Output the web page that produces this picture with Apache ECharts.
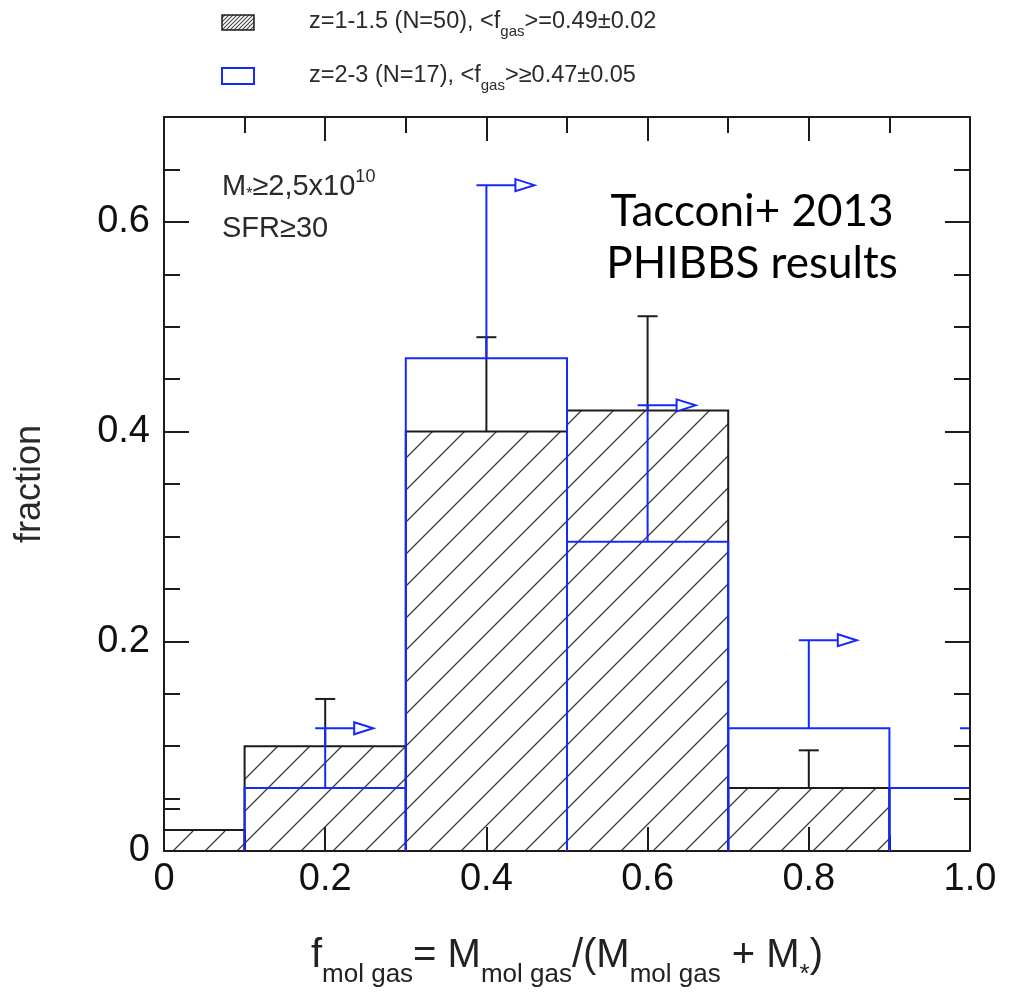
<!DOCTYPE html>
<html>
<head>
<meta charset="utf-8">
<script src="https://cdn.jsdelivr.net/npm/echarts@6/dist/echarts.min.js"></script>
<style>
  html, body { margin: 0; padding: 0; background: #fff; }
  #chart { width: 1009px; height: 995px; }
</style>
</head>
<body>
<div id="chart"></div>
<script>
// Molecular gas fraction distributions: z=1-1.5 (hatched) and z=2-3 (blue outline)
const lowZEdges = [0, 0.1, 0.3, 0.5, 0.7, 0.9];
const lowZFrac = [0.02, 0.10, 0.40, 0.42, 0.06];
const highZEdges = [0.1, 0.3, 0.5, 0.7, 0.9, 1.1];
const highZFrac = [0.06, 0.47, 0.295, 0.117, 0.06];

// upper ends of the error bars (z=1-1.5) and lower limits (z=2-3)
const lowZErrX = [0.2, 0.4, 0.6, 0.8];
const lowZErrTop = [0.145, 0.49, 0.51, 0.096];
const highZLimX = [0.2, 0.4, 0.6, 0.8, 1.0];
const highZLimTop = [0.117, 0.635, 0.425, 0.201, 0.117];

// axis ticks
const yLabelTicks = [0, 0.2, 0.4, 0.6];
const yLongTicks = [0.2, 0.4, 0.6];
const yShortTicksLeft = [0.04, 0.05, 0.1, 0.15, 0.25, 0.3, 0.35, 0.45, 0.5, 0.55, 0.65];
const yShortTicksRight = [0.05, 0.1, 0.15, 0.25, 0.3, 0.35, 0.45, 0.5, 0.55, 0.65];

const FONT = '"Liberation Sans", Arial, sans-serif';
const INK = '#1c1c1c';
const BLUE = '#1428ff';

function hatchTile(step, color, width) {
  const c = document.createElement('canvas');
  c.width = step; c.height = step;
  const g = c.getContext('2d');
  g.strokeStyle = color;
  g.lineWidth = width;
  g.beginPath();
  g.moveTo(-2, step + 2); g.lineTo(step + 2, -2);
  g.moveTo(-2, 2); g.lineTo(2, -2);
  g.moveTo(step - 2, step + 2); g.lineTo(step + 2, step - 2);
  g.stroke();
  return { type: 'pattern', image: c, repeat: 'repeat' };
}
const barHatch = hatchTile(32, '#3a3a3a', 1.3);
const keyHatch = hatchTile(4, '#444', 1.1);

function binValue(edges, vals, x) {
  for (let i = 0; i < vals.length; i++) {
    if (x >= edges[i] - 1e-9 && x < edges[i + 1] - 1e-9) return vals[i];
  }
  return vals[vals.length - 1];
}

const lowZBins = lowZFrac.map((v, i) => [lowZEdges[i], lowZEdges[i + 1], v]);
const highZBins = highZFrac.map((v, i) => [highZEdges[i], highZEdges[i + 1], v]);
const lowZErr = lowZErrX.map((x, i) => [x, binValue(lowZEdges, lowZFrac, x), lowZErrTop[i]]);
const highZLim = highZLimX.map((x, i) => [x, binValue(highZEdges, highZFrac, x), highZLimTop[i]]);

const frameLine = { color: INK, width: 2 };

function xAxisDef(pos) {
  return {
    type: 'value', min: 0, max: 1, interval: 0.2, position: pos,
    axisLine: { show: true, onZero: false, lineStyle: frameLine },
    axisTick: { show: true, inside: true, length: 24, lineStyle: frameLine },
    minorTick: { show: true, splitNumber: 2, length: 16, lineStyle: frameLine },
    splitLine: { show: false },
    minorSplitLine: { show: false },
    axisLabel: pos === 'bottom' ? {
      show: true, margin: 10, color: '#111', fontSize: 38, fontFamily: FONT,
      formatter: v => (v === 0 ? '0' : v.toFixed(1))
    } : { show: false }
  };
}

function yAxisDef(pos, long, withLabels) {
  return {
    type: 'value', min: 0, max: 0.7, position: pos, z: pos === 'right' ? 5 : 0,
    axisLine: { show: !long, onZero: false, lineStyle: frameLine },
    axisTick: {
      show: true, inside: true, length: long ? 25 : 16, lineStyle: frameLine,
      customValues: long ? yLongTicks : (pos === 'left' ? yShortTicksLeft : yShortTicksRight)
    },
    splitLine: { show: false },
    axisLabel: withLabels ? {
      show: true, margin: 14, color: '#111', fontSize: 38, fontFamily: FONT,
      customValues: yLabelTicks,
      formatter: v => (v === 0 ? '0' : v.toFixed(1))
    } : { show: false }
  };
}

const xTitle = xAxisDef('bottom');
xTitle.name = 'f{s|mol gas}= M{s|mol gas}/(M{s|mol gas} + M{s|*})';
xTitle.nameLocation = 'middle';
xTitle.nameGap = 73;
xTitle.nameTextStyle = {
  fontSize: 40, fontFamily: FONT, color: '#222',
  rich: { s: { fontSize: 26, fontFamily: FONT, color: '#222', padding: [38, 0, 0, 0] } }
};

const yTitle = yAxisDef('left', true, true);
yTitle.name = 'fraction';
yTitle.nameLocation = 'middle';
yTitle.nameGap = 116;
yTitle.nameTextStyle = { fontSize: 36, fontFamily: FONT, color: '#2a2a2a' };

const chart = echarts.init(document.getElementById('chart'), null, { renderer: 'canvas' });

chart.setOption({
  animation: false,
  backgroundColor: '#fff',
  grid: { left: 164, right: 39, top: 117, bottom: 144, outerBoundsMode: 'none' },
  xAxis: [xTitle, xAxisDef('top')],
  yAxis: [
    yAxisDef('left', false, false),
    yTitle,
    yAxisDef('right', false, false),
    yAxisDef('right', true, false)
  ],
  series: [
    {
      type: 'custom', name: 'z=1-1.5', xAxisIndex: 0, yAxisIndex: 0, clip: true,
      encode: { x: [0, 1], y: 2 },
      data: lowZBins,
      renderItem: (params, api) => {
        const a = api.coord([api.value(0), api.value(2)]);
        const b = api.coord([api.value(1), 0]);
        return {
          type: 'rect',
          shape: { x: a[0], y: a[1], width: b[0] - a[0], height: b[1] - a[1] },
          style: { fill: barHatch, stroke: INK, lineWidth: 2 }
        };
      }
    },
    {
      type: 'custom', name: 'z=1-1.5 err', xAxisIndex: 0, yAxisIndex: 0, clip: true,
      encode: { x: 0, y: [1, 2] },
      data: lowZErr,
      renderItem: (params, api) => {
        const lo = api.coord([api.value(0), api.value(1)]);
        const hi = api.coord([api.value(0), api.value(2)]);
        const st = { stroke: INK, lineWidth: 2 };
        return {
          type: 'group',
          children: [
            { type: 'line', shape: { x1: lo[0], y1: lo[1], x2: hi[0], y2: hi[1] }, style: st },
            { type: 'line', shape: { x1: hi[0] - 10, y1: hi[1], x2: hi[0] + 10, y2: hi[1] }, style: st }
          ]
        };
      }
    },
    {
      type: 'custom', name: 'z=2-3', xAxisIndex: 0, yAxisIndex: 0, clip: true,
      encode: { x: [0, 1], y: 2 },
      data: highZBins,
      renderItem: (params, api) => {
        const a = api.coord([api.value(0), api.value(2)]);
        const b = api.coord([api.value(1), 0]);
        return {
          type: 'polyline',
          shape: { points: [[a[0], b[1]], [a[0], a[1]], [b[0], a[1]], [b[0], b[1]]] },
          style: { fill: 'none', stroke: BLUE, lineWidth: 2 }
        };
      }
    },
    {
      type: 'custom', name: 'z=2-3 limits', xAxisIndex: 0, yAxisIndex: 0, clip: true,
      encode: { x: 0, y: [1, 2] },
      data: highZLim,
      renderItem: (params, api) => {
        const lo = api.coord([api.value(0), api.value(1)]);
        const hi = api.coord([api.value(0), api.value(2)]);
        const st = { stroke: BLUE, lineWidth: 2 };
        const x = hi[0], y = hi[1];
        return {
          type: 'group',
          children: [
            { type: 'line', shape: { x1: lo[0], y1: lo[1], x2: x, y2: y }, style: st },
            { type: 'line', shape: { x1: x - 10, y1: y, x2: x + 29, y2: y }, style: st },
            {
              type: 'polygon',
              shape: { points: [[x + 29, y - 6], [x + 48, y], [x + 29, y + 6]] },
              style: { fill: '#fff', stroke: BLUE, lineWidth: 2 }
            }
          ]
        };
      }
    }
  ],
  graphic: [
    { type: 'rect', shape: { x: 222, y: 15, width: 32, height: 15 }, style: { fill: keyHatch, stroke: INK, lineWidth: 1.5 } },
    {
      type: 'text', x: 309, y: 22,
      style: {
        text: 'z=1-1.5 (N=50), <f{s|gas}>=0.49±0.02',
        fontSize: 23.5, fontFamily: FONT, fill: '#2a2a2a', verticalAlign: 'middle',
        rich: { s: { fontSize: 15, fontFamily: FONT, fill: '#2a2a2a', padding: [20, 0, 0, 0] } }
      }
    },
    { type: 'rect', shape: { x: 222, y: 68, width: 32, height: 16 }, style: { fill: 'none', stroke: BLUE, lineWidth: 2 } },
    {
      type: 'text', x: 309, y: 76,
      style: {
        text: 'z=2-3 (N=17), <f{s|gas}>≥0.47±0.05',
        fontSize: 23.5, fontFamily: FONT, fill: '#2a2a2a', verticalAlign: 'middle',
        rich: { s: { fontSize: 15, fontFamily: FONT, fill: '#2a2a2a', padding: [20, 0, 0, 0] } }
      }
    },
    {
      type: 'text', x: 222, y: 187,
      style: {
        text: 'M{s|*}≥2,5x10{p|10}',
        fontSize: 29, fontFamily: FONT, fill: '#2a2a2a', verticalAlign: 'middle',
        rich: {
          s: { fontSize: 16, fontFamily: FONT, fill: '#2a2a2a', padding: [16, 0, 0, 0] },
          p: { fontSize: 18, fontFamily: FONT, fill: '#2a2a2a', padding: [0, 0, 20, 0] }
        }
      }
    },
    {
      type: 'text', x: 222, y: 229,
      style: { text: 'SFR≥30', fontSize: 29, fontFamily: FONT, fill: '#2a2a2a', verticalAlign: 'middle' }
    },
    {
      type: 'text', x: 752, y: 212,
      style: { text: 'Tacconi+ 2013', fontSize: 44, fontFamily: 'Lato, "Open Sans", sans-serif', fill: '#000', align: 'center', verticalAlign: 'middle' }
    },
    {
      type: 'text', x: 752, y: 264,
      style: { text: 'PHIBBS results', fontSize: 44, fontFamily: 'Lato, "Open Sans", sans-serif', fill: '#000', align: 'center', verticalAlign: 'middle' }
    }
  ]
});
</script>
</body>
</html>
